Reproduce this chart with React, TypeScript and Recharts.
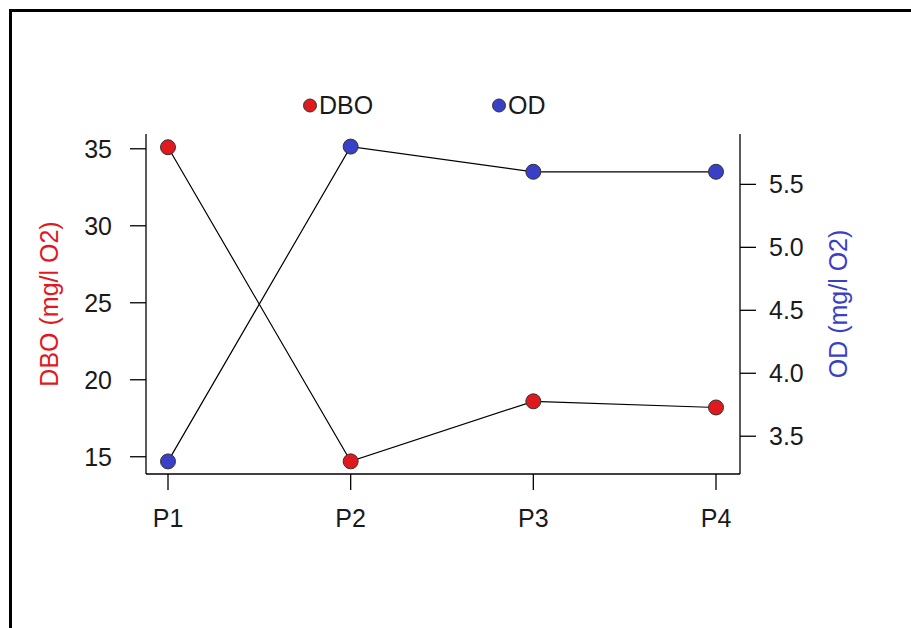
import React from 'react';
import { LineChart, Line, XAxis, YAxis } from 'recharts';

const categories = ['P1', 'P2', 'P3', 'P4'];
const dboValues = [35.1, 14.7, 18.6, 18.2];
const odValues = [3.3, 5.8, 5.6, 5.6];
const dboTicks = [15, 20, 25, 30, 35];
const odTicks = [3.5, 4.0, 4.5, 5.0, 5.5];
const seriesNames = ['DBO', 'OD'];

const data = categories.map((name, i) => ({ name, DBO: dboValues[i], OD: odValues[i] }));

const FONT = '"Liberation Sans", Arial, sans-serif';
const RED = '#E0191F';
const BLUE = '#3A3FC8';
const TEXT = '#1a1a1a';
const FS = 25;

const tickStyle = { fill: TEXT, fontSize: FS, fontFamily: FONT };

const leftLabel = (props: any) => {
  const vb = props.viewBox || { x: 0, y: 126, width: 138, height: 340 };
  const x = vb.x + 41;
  const y = vb.y + vb.height / 2;
  return (
    <text x={x} y={y} dy="0.355em" textAnchor="middle" transform={`rotate(-90, ${x}, ${y})`}
      fill={RED} fontSize={FS} fontFamily={FONT}>DBO (mg/l O2)</text>
  );
};

const rightLabel = (props: any) => {
  const vb = props.viewBox || { x: 732, y: 126, width: 171, height: 340 };
  const x = vb.x + 98;
  const y = vb.y + vb.height / 2;
  return (
    <text x={x} y={y} dy="0.355em" textAnchor="middle" transform={`rotate(-90, ${x}, ${y})`}
      fill={BLUE} fontSize={FS} fontFamily={FONT}>OD (mg/l O2)</text>
  );
};

const LegendItem = ({ left, color, label }: { left: number; color: string; label: string }) => (
  <div style={{ position: 'absolute', left, top: 105, transform: 'translateY(-50%)', display: 'flex', alignItems: 'center' }}>
    <div style={{ width: 14, height: 14, borderRadius: '50%', background: color, border: '1px solid #333', boxSizing: 'border-box' }} />
    <span style={{ marginLeft: 2, fontSize: FS, fontFamily: FONT, color: TEXT, lineHeight: 1 }}>{label}</span>
  </div>
);

export default function App() {
  return (
    <div style={{ position: 'relative', width: 911, height: 628, overflow: 'hidden', background: '#fff' }}>
      <style>{'html,body{margin:0;padding:0;overflow:hidden;background:#fff}'}</style>
      <div style={{ position: 'absolute', left: 9, top: 9, width: 2000, height: 2000, borderLeft: '3px solid #000', borderTop: '3px solid #000' }} />
      <div style={{ position: 'absolute', left: 8, top: 8 }}>
        <LineChart width={903} height={620} data={data} margin={{ top: 126, right: 0, bottom: 0, left: 0 }}>
          <XAxis xAxisId="top" orientation="top" dataKey="name" type="category" scale="point"
            height={0} tick={false} tickLine={false} axisLine={{ stroke: '#000', strokeWidth: 1.3 }}
            padding={{ left: 22, right: 24 }} />
          <XAxis xAxisId="x" dataKey="name" type="category" scale="point" height={154}
            padding={{ left: 22, right: 24 }} tick={tickStyle} tickSize={16} tickMargin={19}
            tickLine={{ stroke: '#000', strokeWidth: 1.3 }} axisLine={{ stroke: '#000', strokeWidth: 1.3 }}
            interval={0} />
          <YAxis yAxisId="left" orientation="left" width={138} domain={[13.88, 35.96]} ticks={dboTicks}
            type="number" allowDataOverflow tick={tickStyle} tickSize={16} tickMargin={18}
            tickLine={{ stroke: '#000', strokeWidth: 1.3 }} axisLine={{ stroke: '#000', strokeWidth: 1.3 }}
            interval={0} label={leftLabel} />
          <YAxis yAxisId="right" orientation="right" width={171} domain={[3.2, 5.9]} ticks={odTicks}
            type="number" allowDataOverflow tick={tickStyle} tickSize={16} tickMargin={13}
            tickFormatter={(v: number) => v.toFixed(1)}
            tickLine={{ stroke: '#000', strokeWidth: 1.3 }} axisLine={{ stroke: '#000', strokeWidth: 1.3 }}
            interval={0} label={rightLabel} />
          <Line xAxisId="x" yAxisId="left" dataKey="DBO" name={seriesNames[0]} stroke="#000" strokeWidth={1.2}
            dot={{ r: 7.5, fill: RED, stroke: '#333', strokeWidth: 1 }} activeDot={false} isAnimationActive={false} />
          <Line xAxisId="x" yAxisId="right" dataKey="OD" name={seriesNames[1]} stroke="#000" strokeWidth={1.2}
            dot={{ r: 7.5, fill: BLUE, stroke: '#333', strokeWidth: 1 }} activeDot={false} isAnimationActive={false} />
        </LineChart>
      </div>
      <LegendItem left={303} color={RED} label={seriesNames[0]} />
      <LegendItem left={492} color={BLUE} label={seriesNames[1]} />
    </div>
  );
}
